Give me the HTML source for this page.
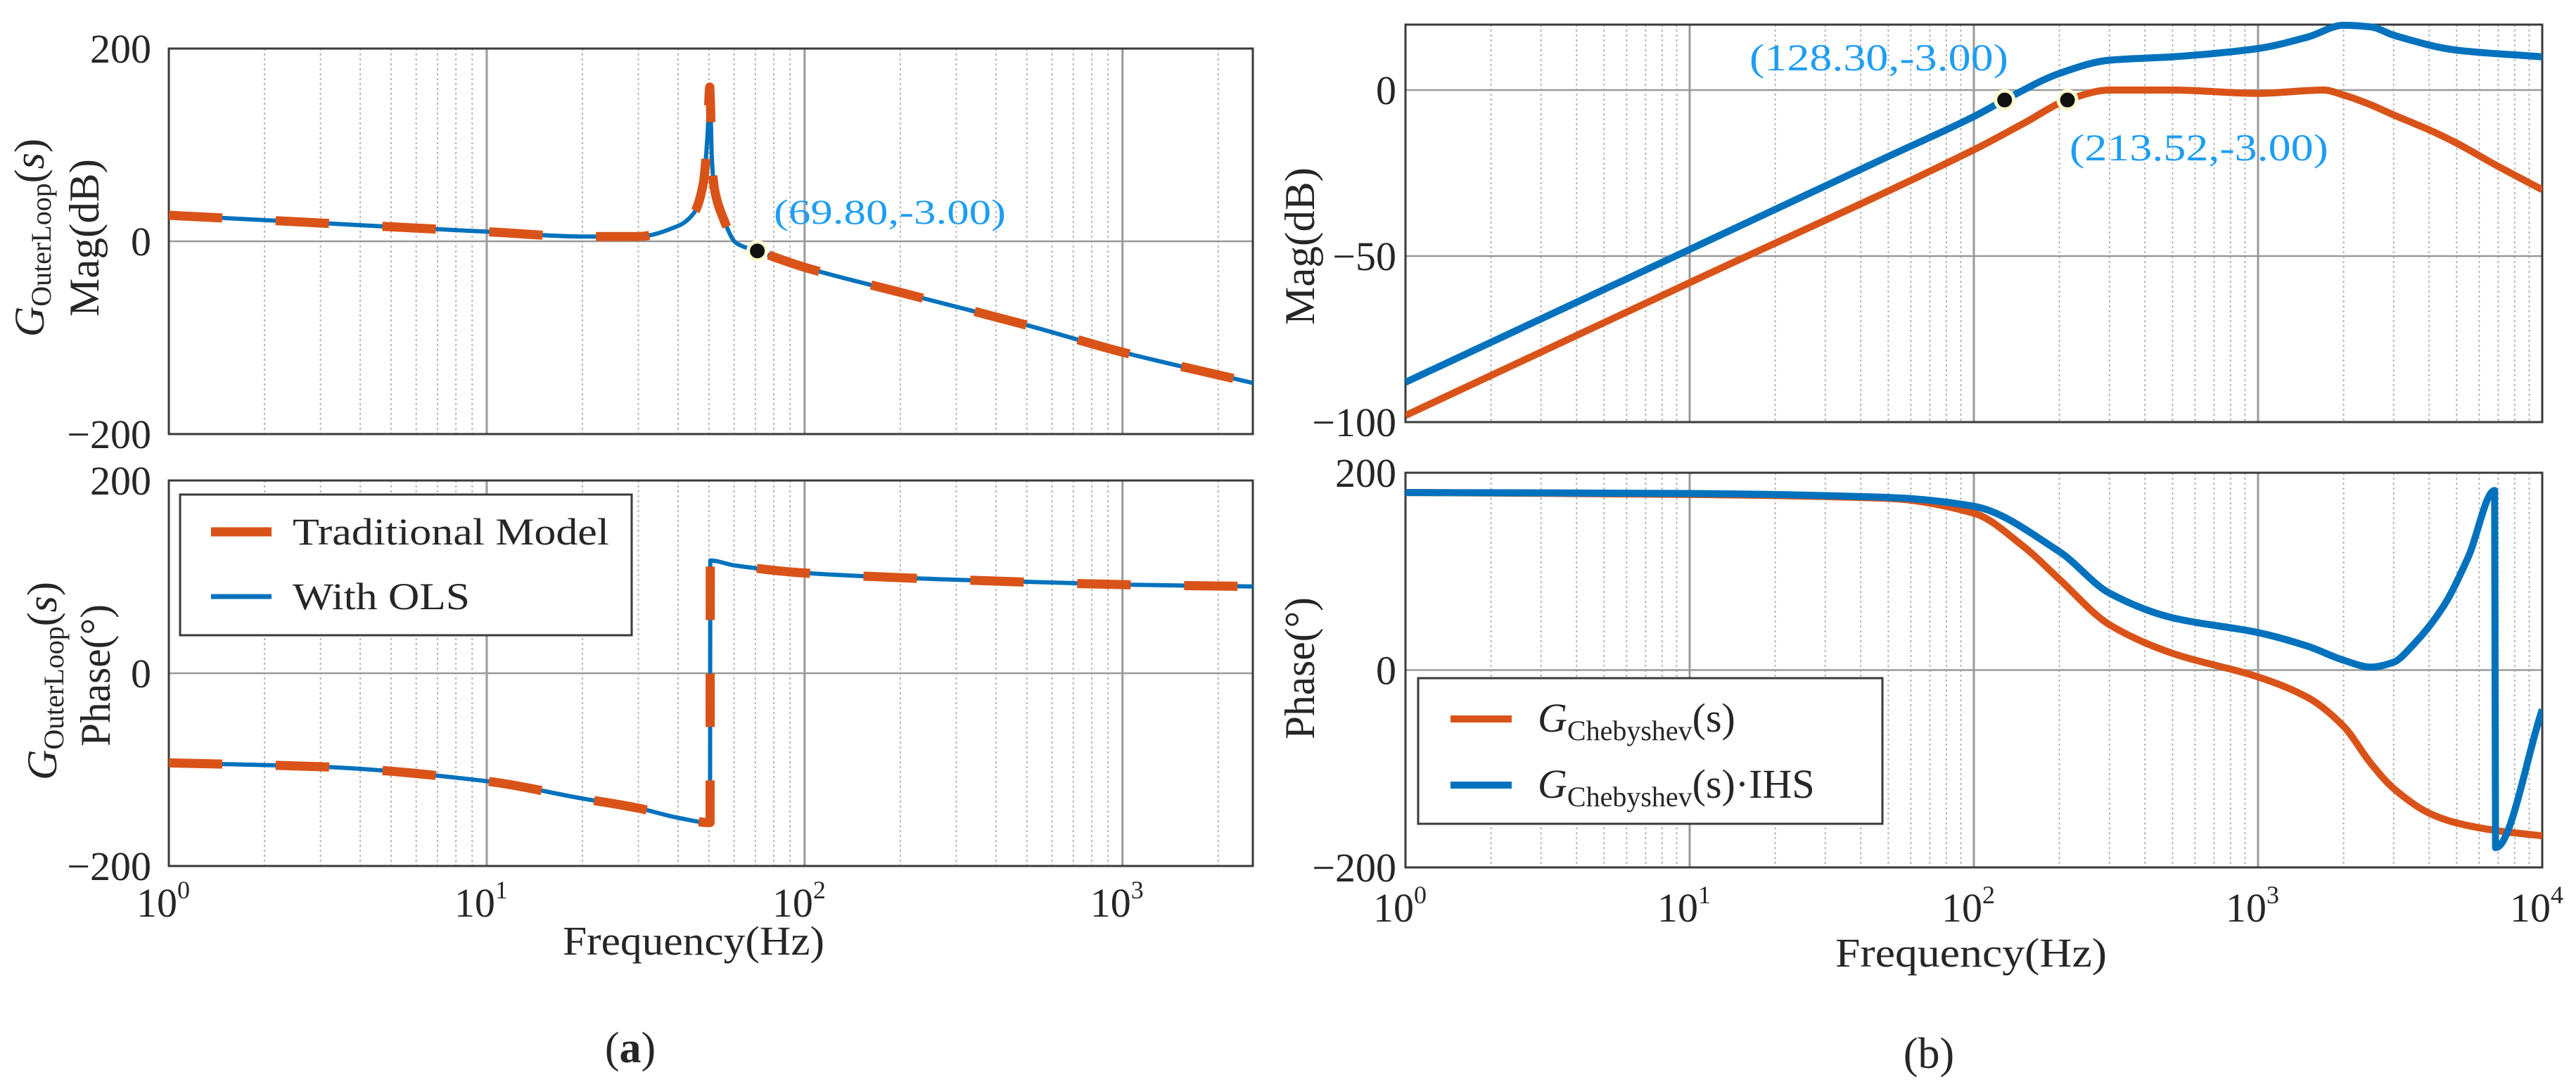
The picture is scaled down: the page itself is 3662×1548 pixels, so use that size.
<!DOCTYPE html>
<html><head><meta charset="utf-8"><style>
html,body{margin:0;padding:0;background:#fff}
svg{display:block}
text{font-family:"Liberation Serif",serif;fill:#262626}
</style></head><body>
<svg id="fig" width="3662" height="1548" viewBox="0 0 3662 1548" xmlns="http://www.w3.org/2000/svg">
<rect width="3662" height="1548" fill="#fff"/>
<g id="layer"></g>
</svg>
<script>
// ---------- Panel (a) data ----------
const freqAMag = [1,2,3,5,10,20,30,40,45,48,49.5,50.3,50.6,51,52,55,61,71,100,200,500,1000,2570];
const magA     = [27,22,19,15,10,5,5,16,30,60,110,160,140,90,55,27,-2,-10,-27,-53,-87,-115,-147];
const freqAPh  = [1,3,10,20,30,40,50.4,50.5,60,100,300,1000,2570];
const phaseA   = [-93,-97,-112,-130,-140,-150,-155,117,112,104,97,92,90];
const markerA  = [71,-10];
const markerALabel = "(69.80,-3.00)";
// ---------- Panel (b) data ----------
const freqBIhs = [1,10,50,100,128.3,200,300,500,1000,1500,2000,2500,3000,5000,10000];
const magIhs   = [-88,-48,-20,-8,-3,5,9,10,12.5,16,19.5,19,16.5,12,10];
const freqBCh  = [1,10,100,150,213.5,300,500,1000,1700,2000,2500,3000,4000,5000,7000,10000];
const magCh    = [-98,-58,-18,-10,-3,0,0,-1,0,-1.5,-4.5,-7.5,-12,-16,-23,-30];
const freqBPhCh  = [1,10,50,100,150,200,300,500,1000,1500,2000,2500,3000,4000,5000,7000,10000];
const phaseCh    = [180,178,174,159,125,92,46,17,-7,-28,-57,-95,-120,-145,-155,-163,-168];
const freqBPhIhs = [1,10,50,100,200,300,500,1000,1500,2000,2500,3000,3500,4500,5500,6800,6850,10000];
const phaseIhs   = [180,179,175,166,120,78,53,38,24,10,3,8,25,65,115,182,-180,-40];
const markersB = [[128.3,-3],[213.52,-3]];
const markersBLabels = ["(128.30,-3.00)","(213.52,-3.00)"];
const tickMagA = [200,0,-200];
const tickPhA = [200,0,-200];
const tickMagB = [0,-50,-100];
const tickPhB = [200,0,-200];
const decadesA = [0,1,2,3];
const decadesB = [0,1,2,3,4];

const NS="http://www.w3.org/2000/svg";
const L=document.getElementById('layer');
function mk(tag,attrs,parent){const e=document.createElementNS(NS,tag);for(const k in attrs)e.setAttribute(k,attrs[k]);(parent||L).appendChild(e);return e;}
function txt(s,attrs,parent){const e=mk('text',attrs,parent);e.textContent=s;return e;}

function axis(x0,x1,y0,y1,lmin,lmax,vmin,vmax){
  return {x0,x1,y0,y1,
    X:f=>x0+(Math.log10(f)-lmin)/(lmax-lmin)*(x1-x0),
    Y:v=>y1-(v-vmin)/(vmax-vmin)*(y1-y0)};
}
let clipId=0;
function frame(ax,name,lmin,lmax,hz){
  const g=mk('g',{});
  
  
  for(let d=Math.floor(lmin);d<Math.ceil(lmax);d++){
    for(let m=2;m<=9;m++){const f=m*Math.pow(10,d);const lf=Math.log10(f);if(lf<=lmin||lf>=lmax)continue;
      const x=ax.X(f);const l=mk('line',{x1:x,x2:x,y1:ax.y0,y2:ax.y1,stroke:'#b5b5b5','stroke-width':2,'stroke-dasharray':'3 4'},g);
      }
  }
  for(let d=Math.ceil(lmin);d<=Math.floor(lmax);d++){
    if(d===lmin||d===lmax)continue;const x=ax.X(Math.pow(10,d));
    const l=mk('line',{x1:x,x2:x,y1:ax.y0,y2:ax.y1,stroke:'#9a9a9a','stroke-width':3},g);
    }
  hz.forEach(v=>{const y=ax.Y(v);if(Math.abs(y-ax.y0)<2||Math.abs(y-ax.y1)<2)return;
    const l=mk('line',{x1:ax.x0,x2:ax.x1,y1:y,y2:y,stroke:'#9a9a9a','stroke-width':2.5},g);
    });
  const r=mk('rect',{x:ax.x0,y:ax.y0,width:ax.x1-ax.x0,height:ax.y1-ax.y0,fill:'none',stroke:'#3a3a3a','stroke-width':3},g);
  
  clipId++;
  const cp=mk('clipPath',{id:'c'+clipId});
  mk('rect',{x:ax.x0,y:ax.y0-4,width:ax.x1-ax.x0,height:ax.y1-ax.y0+8},cp);
  return 'url(#c'+clipId+')';
}
function monoPath(px,py){
  const n=px.length;const d=[],m=[];
  for(let i=0;i<n-1;i++){const dx=px[i+1]-px[i];d.push(dx===0?0:(py[i+1]-py[i])/Math.max(dx,1e-6));}
  for(let i=0;i<n;i++){
    if(i===0)m.push(d[0]);else if(i===n-1)m.push(d[n-2]);
    else m.push(d[i-1]*d[i]<=0?0:(2/(1/d[i-1]+1/d[i])));
  }
  let s='M'+px[0].toFixed(1)+','+py[0].toFixed(1);
  for(let i=0;i<n-1;i++){const h=(px[i+1]-px[i])/3;
    if(Math.abs(px[i+1]-px[i])<2){s+=' L'+px[i+1].toFixed(1)+','+py[i+1].toFixed(1);continue;}
    s+=' C'+(px[i]+h).toFixed(1)+','+(py[i]+m[i]*h).toFixed(1)+' '+(px[i+1]-h).toFixed(1)+','+(py[i+1]-m[i+1]*h).toFixed(1)+' '+px[i+1].toFixed(1)+','+py[i+1].toFixed(1);}
  return s;
}
function series(ax,fs,vs,attrs,clip,name){
  const p=mk('path',Object.assign({d:monoPath(fs.map(ax.X),vs.map(ax.Y)),fill:'none','stroke-linejoin':'round','clip-path':clip},attrs));
  return p;
}
function yticks(ax,ticks,xr,name){
  ticks.forEach(v=>{const t=txt(v<0?'\u2212'+(-v):String(v),{x:xr,y:ax.Y(v)+20,'text-anchor':'end','font-size':58});
    });
}
function xticks(ax,decs,y,name){
  decs.forEach(d=>{const t=txt('10',{x:ax.X(Math.pow(10,d))-8,y:y,'text-anchor':'middle','font-size':58});
    const s=mk('tspan',{dy:-26,'font-size':36},t);s.textContent=String(d);
    });
}
function marker(ax,f,v,name){const c=mk('circle',{cx:ax.X(f),cy:ax.Y(v),r:13,fill:'#111',stroke:'#fffbd0','stroke-width':5});
  }
function rotLabel(x,y,parts,name,len){
  const t=txt('',{transform:'translate('+x+','+y+') rotate(-90)','text-anchor':'middle','font-size':60});
  parts.forEach(p=>{const s=mk('tspan',p.a||{},t);s.textContent=p.s;});
  if(len){t.setAttribute('textLength',len);t.setAttribute('lengthAdjust','spacingAndGlyphs');}
  return t;
}
const OR='#D95319',BL='#0072BD',AN='#1E9EF2';

// ================= Panel (a) =================
const LA0=0,LA1=Math.log10(2570);
const aMag=axis(240,1781,69,617,LA0,LA1,-200,200);
const aPh=axis(240,1781,683,1231,LA0,LA1,-200,200);
let c1=frame(aMag,'mag-axes-a',LA0,LA1,[0]);
series(aMag,freqAMag,magA,{stroke:BL,'stroke-width':6},c1,'mag-with-ols-line');
series(aMag,freqAMag,magA,{stroke:OR,'stroke-width':13,'stroke-dasharray':'76 76'},c1,'mag-traditional-line');
marker(aMag,markerA[0],markerA[1],'crossover-marker-a');
let ta=txt(markerALabel,{x:1100,y:318,'font-size':50,style:'fill:'+AN,textLength:330,lengthAdjust:'spacingAndGlyphs'});

let c2=frame(aPh,'phase-axes-a',LA0,LA1,[0]);
series(aPh,freqAPh,phaseA,{stroke:BL,'stroke-width':6},c2,'phase-with-ols-line');
series(aPh,freqAPh,phaseA,{stroke:OR,'stroke-width':13,'stroke-dasharray':'76 76'},c2,'phase-traditional-line');
yticks(aMag,tickMagA,215,'mag-tick-label-a');
yticks(aPh,tickPhA,215,'phase-tick-label-a');
xticks(aPh,decadesA,1303,'freq-tick-label-a');
rotLabel(62,338,[{s:'G',a:{'font-style':'italic'}},{s:'OuterLoop',a:{'font-size':40,dy:10}},{s:'(',a:{dy:-10}},{s:'s',a:{'font-style':'italic'}},{s:')'}],'mag-ylabel-g-a',282);
rotLabel(140,338,[{s:'Mag(dB)'}],'mag-ylabel-a',224);
rotLabel(80,968,[{s:'G',a:{'font-style':'italic'}},{s:'OuterLoop',a:{'font-size':40,dy:10}},{s:'(',a:{dy:-10}},{s:'s',a:{'font-style':'italic'}},{s:')'}],'phase-ylabel-g-a',282);
rotLabel(156,960,[{s:'Phase(\u00b0)'}],'phase-ylabel-a',202);
let fa=txt('Frequency(Hz)',{x:986,y:1357,'text-anchor':'middle','font-size':58,textLength:372,lengthAdjust:'spacingAndGlyphs'});

const lgA=mk('g',{});
mk('rect',{x:256,y:703,width:642,height:200,fill:'#fff',stroke:'#3a3a3a','stroke-width':3},lgA);
mk('line',{x1:300,x2:386,y1:756,y2:756,stroke:OR,'stroke-width':13},lgA);
mk('line',{x1:300,x2:386,y1:848,y2:848,stroke:BL,'stroke-width':7},lgA);
let l1=txt('Traditional Model',{x:416,y:774,'font-size':54,textLength:450,lengthAdjust:'spacingAndGlyphs'},lgA);

let l2=txt('With OLS',{x:416,y:866,'font-size':54,textLength:252,lengthAdjust:'spacingAndGlyphs'},lgA);

let pa=txt('(',{x:896,y:1510,'text-anchor':'middle','font-size':62});
const pab=mk('tspan',{'font-weight':'bold'},pa);pab.textContent='a';const pac=mk('tspan',{},pa);pac.textContent=')';


// ================= Panel (b) =================
const bMag=axis(1998,3614,35,600,0,4,-100,19.7);
const bPh=axis(1998,3614,672,1233,0,4,-200,200);
let c3=frame(bMag,'mag-axes-b',0,4,[0,-50]);
series(bMag,freqBCh,magCh,{stroke:OR,'stroke-width':10},c3,'mag-chebyshev-line');
series(bMag,freqBIhs,magIhs,{stroke:BL,'stroke-width':10},c3,'mag-chebyshev-ihs-line');
markersB.forEach((m,i)=>marker(bMag,m[0],m[1],'crossover-marker-b'));
let tb1=txt(markersBLabels[0],{x:2487,y:100,'font-size':54,style:'fill:'+AN,textLength:368,lengthAdjust:'spacingAndGlyphs'});

let tb2=txt(markersBLabels[1],{x:2942,y:228,'font-size':54,style:'fill:'+AN,textLength:368,lengthAdjust:'spacingAndGlyphs'});

let c4=frame(bPh,'phase-axes-b',0,4,[0]);
series(bPh,freqBPhCh,phaseCh,{stroke:OR,'stroke-width':10},c4,'phase-chebyshev-line');
series(bPh,freqBPhIhs,phaseIhs,{stroke:BL,'stroke-width':10},c4,'phase-chebyshev-ihs-line');
yticks(bMag,tickMagB,1985,'mag-tick-label-b');
yticks(bPh,tickPhB,1985,'phase-tick-label-b');
xticks(bPh,decadesB,1310,'freq-tick-label-b');
rotLabel(1868,350,[{s:'Mag(dB)'}],'mag-ylabel-b',224);
rotLabel(1868,950,[{s:'Phase(\u00b0)'}],'phase-ylabel-b',202);
let fb=txt('Frequency(Hz)',{x:2802,y:1374,'text-anchor':'middle','font-size':58,textLength:386,lengthAdjust:'spacingAndGlyphs'});

const lgB=mk('g',{});
mk('rect',{x:2016,y:964,width:660,height:207,fill:'#fff',stroke:'#3a3a3a','stroke-width':3},lgB);
mk('line',{x1:2062,x2:2149,y1:1022,y2:1022,stroke:OR,'stroke-width':10},lgB);
mk('line',{x1:2062,x2:2149,y1:1116,y2:1116,stroke:BL,'stroke-width':10},lgB);
function gLeg(y,suffix,name){const t=txt('',{x:2186,y:y,'font-size':58},lgB);
  const a=mk('tspan',{'font-style':'italic'},t);a.textContent='G';
  const b=mk('tspan',{'font-size':40,dy:12},t);b.textContent='Chebyshev';
  const c=mk('tspan',{dy:-12},t);c.textContent=suffix;
  }
gLeg(1040,'(s)','legend-entry-chebyshev');
gLeg(1134,'(s)\u00b7IHS','legend-entry-chebyshev-ihs');
let pb=txt('(b)',{x:2742,y:1518,'text-anchor':'middle','font-size':62});

</script>
</body></html>
